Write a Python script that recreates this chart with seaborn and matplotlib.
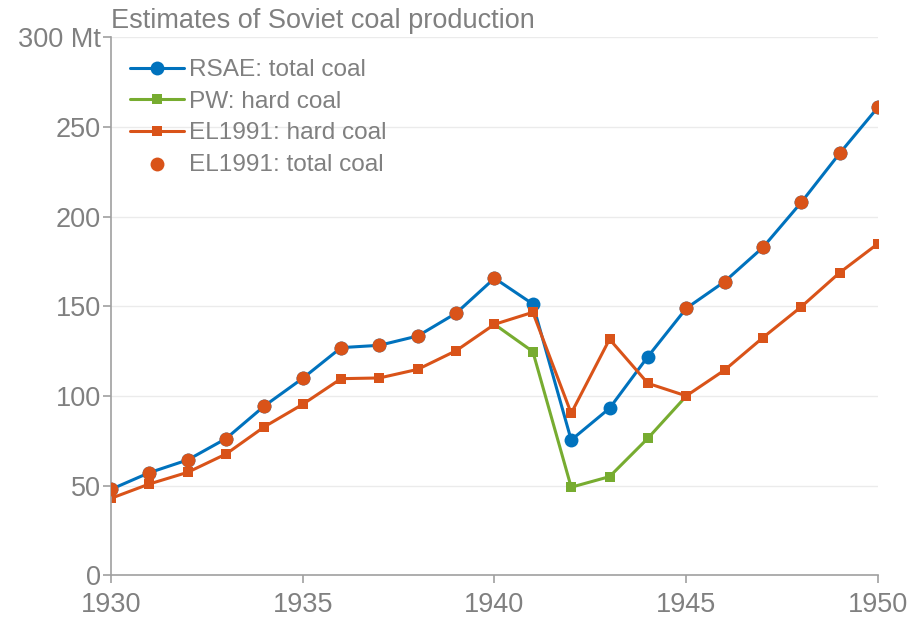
import matplotlib
matplotlib.use("Agg")
import matplotlib.pyplot as plt
import seaborn as sns
import pandas as pd

years = list(range(1930, 1951))
rsae_total = [48.0, 57.3, 64.4, 76.3, 94.5, 109.9, 127.0, 128.3, 133.5, 146.2, 165.7,
              151.3, 75.5, 93.2, 122.0, 148.9, 163.8, 182.9, 208.0, 235.3, 261.0]
pw_years = [1940, 1941, 1942, 1943, 1944, 1945]
pw_hard = [140.0, 124.8, 49.2, 55.1, 76.5, 100.0]
el_hard = [43.0, 51.0, 57.5, 67.7, 82.9, 95.4, 109.7, 110.1, 114.9, 125.3, 140.0,
           146.7, 90.4, 131.7, 107.1, 100.1, 114.5, 132.6, 149.8, 168.8, 185.0]
el_total_years = [1930, 1931, 1932, 1933, 1934, 1935, 1936, 1937, 1938, 1939, 1940,
                  1945, 1946, 1947, 1948, 1949, 1950]
el_total = [48.0, 57.3, 64.4, 76.3, 94.5, 109.9, 127.0, 128.3, 133.5, 146.2, 165.7,
            148.9, 163.8, 182.9, 208.0, 235.3, 261.0]
labels = ["RSAE: total coal", "PW: hard coal", "EL1991: hard coal", "EL1991: total coal"]
y_ticks = [0, 50, 100, 150, 200, 250, 300]
y_ticklabels = ["0", "50", "100", "150", "200", "250", "300 Mt"]
x_ticks = [1930, 1935, 1940, 1945, 1950]
title = "Estimates of Soviet coal production"

BLUE = "#0072BD"
GREEN = "#77AC30"
ORANGE = "#D95319"
GRAY = "#808080"

sns.set_theme(style="white")
plt.rcParams['font.family'] = ['Liberation Sans', 'DejaVu Sans']

fig = plt.figure(figsize=(9.11, 6.21), dpi=100)
ax = fig.add_axes([0.1218, 0.0733, 0.842, 0.8667])

sns.lineplot(x=years, y=rsae_total, ax=ax, color=BLUE, lw=2.2, marker="o",
             markersize=10, markeredgewidth=0, label=labels[0])
sns.lineplot(x=pw_years, y=pw_hard, ax=ax, color=GREEN, lw=2.2, marker="s",
             markersize=7, markeredgewidth=0, label=labels[1])
sns.lineplot(x=years, y=el_hard, ax=ax, color=ORANGE, lw=2.2, marker="s",
             markersize=7, markeredgewidth=0, label=labels[2])
sns.scatterplot(x=el_total_years, y=el_total, ax=ax, color=ORANGE, s=100,
                linewidth=0, label=labels[3], zorder=5)

ax.set_xlim(1930, 1950)
ax.set_ylim(0, 300)
ax.set_xticks(x_ticks)
ax.set_xticklabels([str(t) for t in x_ticks])
ax.set_yticks(y_ticks)
ax.set_yticklabels(y_ticklabels)
ax.grid(axis="y", color="#ebebeb", lw=1)
ax.grid(axis="x", visible=False)
ax.set_axisbelow(True)
for s in ["top", "right"]:
    ax.spines[s].set_visible(False)
for s in ["left", "bottom"]:
    ax.spines[s].set_color("#a0a0a0")
    ax.spines[s].set_linewidth(1.2)
ax.tick_params(axis="both", colors="#a0a0a0", labelcolor=GRAY, labelsize=19.5,
               length=6, width=1.2, direction="out", left=True, bottom=True)
ax.tick_params(axis="x", pad=6)
ax.tick_params(axis="y", pad=1)
for lbl in ax.get_xticklabels() + ax.get_yticklabels():
    lbl.set_color(GRAY)

fig.text(0.1218, 0.955, title, fontsize=19.5, color=GRAY, ha="left", va="baseline")

leg = ax.legend(loc="upper left", bbox_to_anchor=(-0.004, 1.0), frameon=False,
                fontsize=17.6, handlelength=2.2, handletextpad=0.2,
                labelspacing=0.38, borderaxespad=0.5)
for t in leg.get_texts():
    t.set_color(GRAY)

fig.savefig("out.png", dpi=100)
